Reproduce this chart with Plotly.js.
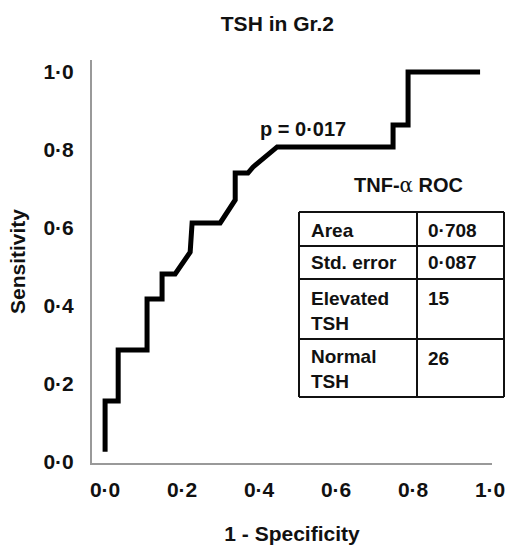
<!DOCTYPE html>
<html><head><meta charset="utf-8">
<script src="https://cdn.plot.ly/plotly-3.0.1.min.js"></script>
<style>html,body{margin:0;padding:0;background:#fff}#chart{width:509px;height:548px}</style>
</head><body><div id="chart"></div>
<script>
// ROC curve points (1 - specificity, sensitivity)
const fpr = [0.0,0.0,0.034,0.034,0.109,0.109,0.148,0.148,0.182,0.221,0.226,0.299,0.338,0.338,0.371,0.384,0.447,0.748,0.748,0.787,0.787,0.974];
const tpr = [0.026,0.156,0.156,0.287,0.287,0.418,0.418,0.482,0.482,0.538,0.613,0.613,0.672,0.741,0.741,0.756,0.808,0.808,0.864,0.864,1.0,1.0];
const tickVals = [0,0.2,0.4,0.6,0.8,1.0];
const tickText = ["0·0","0·2","0·4","0·6","0·8","1·0"];
const tableLabels = ["Area","Std. error","Elevated<br>TSH","Normal<br>TSH"];
const tableValues = ["0·708","0·087","15","26"];
const pText = "p = 0·017";
const tableTitle = "TNF-<span style='font-family:\"DejaVu Serif\",serif;font-weight:normal'>α</span> ROC";

const FONT = '"Liberation Sans", Arial, sans-serif';
const boldFont = (s)=>({family:FONT,size:s,color:'#111',weight:'bold'});

// table geometry (paper coords)
const tx = [0.5175, 0.8125, 1.03];
const ty = [0.6228, 0.5385, 0.4566, 0.3077, 0.1638];
const shapes = [];
const L = {color:'#111', width:2};
ty.forEach(y=>shapes.push({type:'line',xref:'paper',yref:'paper',x0:tx[0],x1:tx[2],y0:y,y1:y,line:L}));
tx.forEach(x=>shapes.push({type:'line',xref:'paper',yref:'paper',x0:x,x1:x,y0:ty[0],y1:ty[4],line:L}));

const labelY = [0.578, 0.4963, 0.378, 0.233];
const valueY = [0.578, 0.4963, 0.409, 0.2605];
const annotations = [
  {xref:'paper',yref:'paper',x:0.5275,y:0.828,text:pText,showarrow:false,font:boldFont(20),xanchor:'center',yanchor:'middle'},
  {xref:'paper',yref:'paper',x:0.79,y:0.691,text:tableTitle,showarrow:false,font:boldFont(20),xanchor:'center',yanchor:'middle'}
];
tableLabels.forEach((t,i)=>annotations.push({xref:'paper',yref:'paper',x:0.5425,y:labelY[i],text:t,showarrow:false,font:boldFont(19),xanchor:'left',yanchor:'middle',align:'left'}));
tableValues.forEach((t,i)=>annotations.push({xref:'paper',yref:'paper',x:0.835,y:valueY[i],text:t,showarrow:false,font:boldFont(19),xanchor:'left',yanchor:'middle',align:'left'}));

const trace = {x:fpr,y:tpr,type:'scatter',mode:'lines',line:{color:'#000',width:5,shape:'linear'},hoverinfo:'skip'};

const layout = {
  width:509,height:548,
  margin:{l:92,r:17,t:60,b:85},
  paper_bgcolor:'#fff',plot_bgcolor:'#fff',
  showlegend:false,
  title:{text:'TSH in Gr.2',font:boldFont(21),x:0.545,xanchor:'center',y:0.957,yanchor:'middle'},
  xaxis:{range:[-0.034,1.005],tickvals:tickVals,ticktext:tickText,tickfont:boldFont(21),
    showgrid:false,zeroline:false,showline:true,linecolor:'#999',linewidth:2,ticks:'',ticklabelstandoff:7,
    title:{text:'1 - Specificity',font:boldFont(21),standoff:26}},
  yaxis:{range:[-0.003,1.031],tickvals:tickVals,ticktext:tickText,tickfont:boldFont(21),
    showgrid:false,zeroline:false,showline:true,linecolor:'#999',linewidth:2,ticks:'',ticklabelstandoff:12,
    title:{text:'Sensitivity',font:boldFont(21),standoff:12}},
  shapes:shapes,annotations:annotations
};
Plotly.newPlot('chart',[trace],layout,{displayModeBar:false,staticPlot:true});
</script></body></html>
